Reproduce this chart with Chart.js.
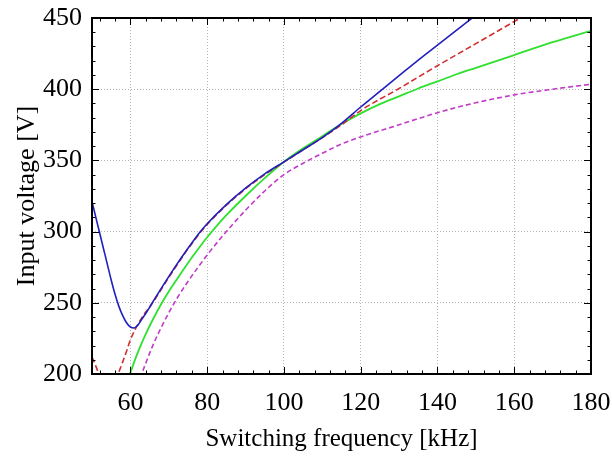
<!DOCTYPE html>
<html>
<head>
<meta charset="utf-8">
<script src="https://cdn.jsdelivr.net/npm/chart.js@4"></script>
<style>
  html, body { margin: 0; padding: 0; background: #fff; }
  canvas { display: block; }
</style>
</head>
<body>
<canvas id="voltageChart" width="612" height="458"></canvas>
<script>
// Axis ticks
const freqTicks = [60, 80, 100, 120, 140, 160, 180];
const voltTicks = [200, 250, 300, 350, 400, 450];

// Blue solid curve
const blueFreq = [50, 51, 52, 53, 54, 55, 56, 57, 58, 59, 60, 61, 62, 63, 64, 65, 66, 68, 70, 72, 74, 76, 78, 80, 85, 90, 95, 100, 105, 110, 115, 120, 125, 130, 135, 140, 145, 150];
const blueVolt = [321, 310, 299, 288, 277, 266, 256, 247.5, 241, 236, 233, 232.3, 234.5, 238.5, 242.5, 246.8, 251.3, 260, 268.4, 276.6, 284.5, 292, 299.2, 305.5, 319, 330.5, 340.5, 349, 357.5, 366, 376, 387.5, 398.5, 409.5, 420.5, 431, 441.5, 452];

// Red dashed curve
const redFreq = [50, 51, 52, 53, 54, 55, 56, 57, 58, 59, 60, 61, 62, 63, 64, 65, 66, 68, 70, 72, 74, 76, 78, 80, 85, 90, 95, 100, 105, 110, 115, 120, 130, 140, 150, 160, 163];
const redVolt = [212, 205.5, 198.5, 193, 191, 192.5, 196, 201.5, 208.5, 216, 224, 230, 235, 239.5, 243.5, 247, 250.8, 259.3, 267.8, 276, 284, 291.5, 298.7, 305, 318.5, 330, 340, 348.8, 357.5, 366, 375, 385, 400.5, 416.5, 432, 447.5, 452];

// Green solid curve
const greenFreq = [59.5, 60, 61, 62, 63, 64, 65, 66, 68, 70, 72, 75, 78, 80, 82, 85, 90, 95, 100, 105, 110, 115, 120, 125, 130, 135, 140, 145, 150, 160, 170, 180];
const greenVolt = [198, 201, 208.5, 215.5, 222, 228, 233.7, 239, 249, 258, 266, 278, 289, 296, 302.5, 311.5, 325, 337.5, 349, 358.5, 367, 375.5, 383, 389.5, 395, 400.5, 405.5, 410.5, 415, 424, 433, 441];

// Magenta dashed curve
const magFreq = [62.5, 63, 64, 65, 66, 67, 68, 70, 72, 75, 80, 85, 90, 95, 100, 105, 110, 115, 120, 130, 140, 150, 160, 170, 180];
const magVolt = [197, 200.5, 207.5, 214.5, 221, 227, 232.5, 243, 252.5, 265, 283.5, 300, 315, 328.5, 340, 348, 355, 361.5, 366.5, 375, 383.5, 390.5, 396, 400, 403.5];

function points(xs, ys) {
    return xs.map((x, i) => ({ x: x, y: ys[i] }));
}

const serif = 'Liberation Serif, Times New Roman, serif';

// frame around the plot with inward ticks on all four sides
const frameTicks = {
    id: 'frameTicks',
    afterDatasetsDraw(chart) {
        const { ctx, chartArea: a, scales: { x, y } } = chart;
        ctx.save();
        ctx.strokeStyle = '#000';
        ctx.lineWidth = 1;
        ctx.beginPath();
        for (let v = 52; v < 180; v += 4) {
            const px = Math.round(x.getPixelForValue(v)) + 0.5;
            const len = (v % 20 === 0) ? 7 : 3.5;
            ctx.moveTo(px, a.bottom); ctx.lineTo(px, a.bottom - len);
            ctx.moveTo(px, a.top); ctx.lineTo(px, a.top + len);
        }
        for (let v = 210; v < 450; v += 10) {
            const py = Math.round(y.getPixelForValue(v)) + 0.5;
            const len = (v % 50 === 0) ? 7 : 3.5;
            ctx.moveTo(a.left, py); ctx.lineTo(a.left + len, py);
            ctx.moveTo(a.right, py); ctx.lineTo(a.right - len, py);
        }
        ctx.stroke();
        ctx.lineWidth = 2;
        ctx.strokeRect(a.left, a.top, a.right - a.left, a.bottom - a.top);
        ctx.restore();
    }
};

const ctx = document.getElementById('voltageChart').getContext('2d');
new Chart(ctx, {
    type: 'line',
    data: {
        datasets: [
            {
                data: points(blueFreq, blueVolt),
                borderColor: '#2020bf',
                borderWidth: 1.6,
            },
            {
                data: points(redFreq, redVolt),
                borderColor: '#d03030',
                borderWidth: 1.6,
                borderDash: [6, 3],
            },
            {
                data: points(greenFreq, greenVolt),
                borderColor: '#2fe02f',
                borderWidth: 1.8,
            },
            {
                data: points(magFreq, magVolt),
                borderColor: '#c03cc8',
                borderWidth: 1.6,
                borderDash: [5, 3],
            }
        ]
    },
    options: {
        responsive: false,
        animation: false,
        cubicInterpolationMode: 'monotone',
        elements: { point: { radius: 0 } },
        layout: { padding: { top: 18, right: 21, left: 0, bottom: 0 } },
        plugins: {
            legend: { display: false },
            tooltip: { enabled: false }
        },
        scales: {
            x: {
                type: 'linear',
                min: 50,
                max: 180,
                afterBuildTicks: (scale) => { scale.ticks = freqTicks.map(v => ({ value: v })); },
                afterFit: (scale) => {
                    scale.height = 84;
                    scale.paddingLeft = 0;
                    scale.paddingRight = 0;
                },
                grid: { color: '#b5b5b5', lineWidth: 1, drawTicks: false },
                border: { display: false, dash: [1, 2] },
                ticks: {
                    color: '#000',
                    padding: 14,
                    maxRotation: 0,
                    font: { family: serif, size: 26 }
                },
                title: {
                    display: true,
                    text: 'Switching frequency [kHz]',
                    color: '#000',
                    padding: { top: 0, bottom: 4 },
                    font: { family: serif, size: 25 }
                }
            },
            y: {
                min: 200,
                max: 450,
                afterBuildTicks: (scale) => { scale.ticks = voltTicks.map(v => ({ value: v })); },
                afterFit: (scale) => {
                    scale.width = 92;
                    scale.paddingTop = 0;
                    scale.paddingBottom = 0;
                },
                grid: { color: '#b5b5b5', lineWidth: 1, drawTicks: false },
                border: { display: false, dash: [1, 2] },
                ticks: {
                    color: '#000',
                    padding: 10,
                    font: { family: serif, size: 26 }
                },
                title: {
                    display: true,
                    text: 'Input voltage [V]',
                    color: '#000',
                    padding: { top: 12, bottom: 0 },
                    font: { family: serif, size: 26 }
                }
            }
        }
    },
    plugins: [frameTicks]
});
</script>
</body>
</html>
